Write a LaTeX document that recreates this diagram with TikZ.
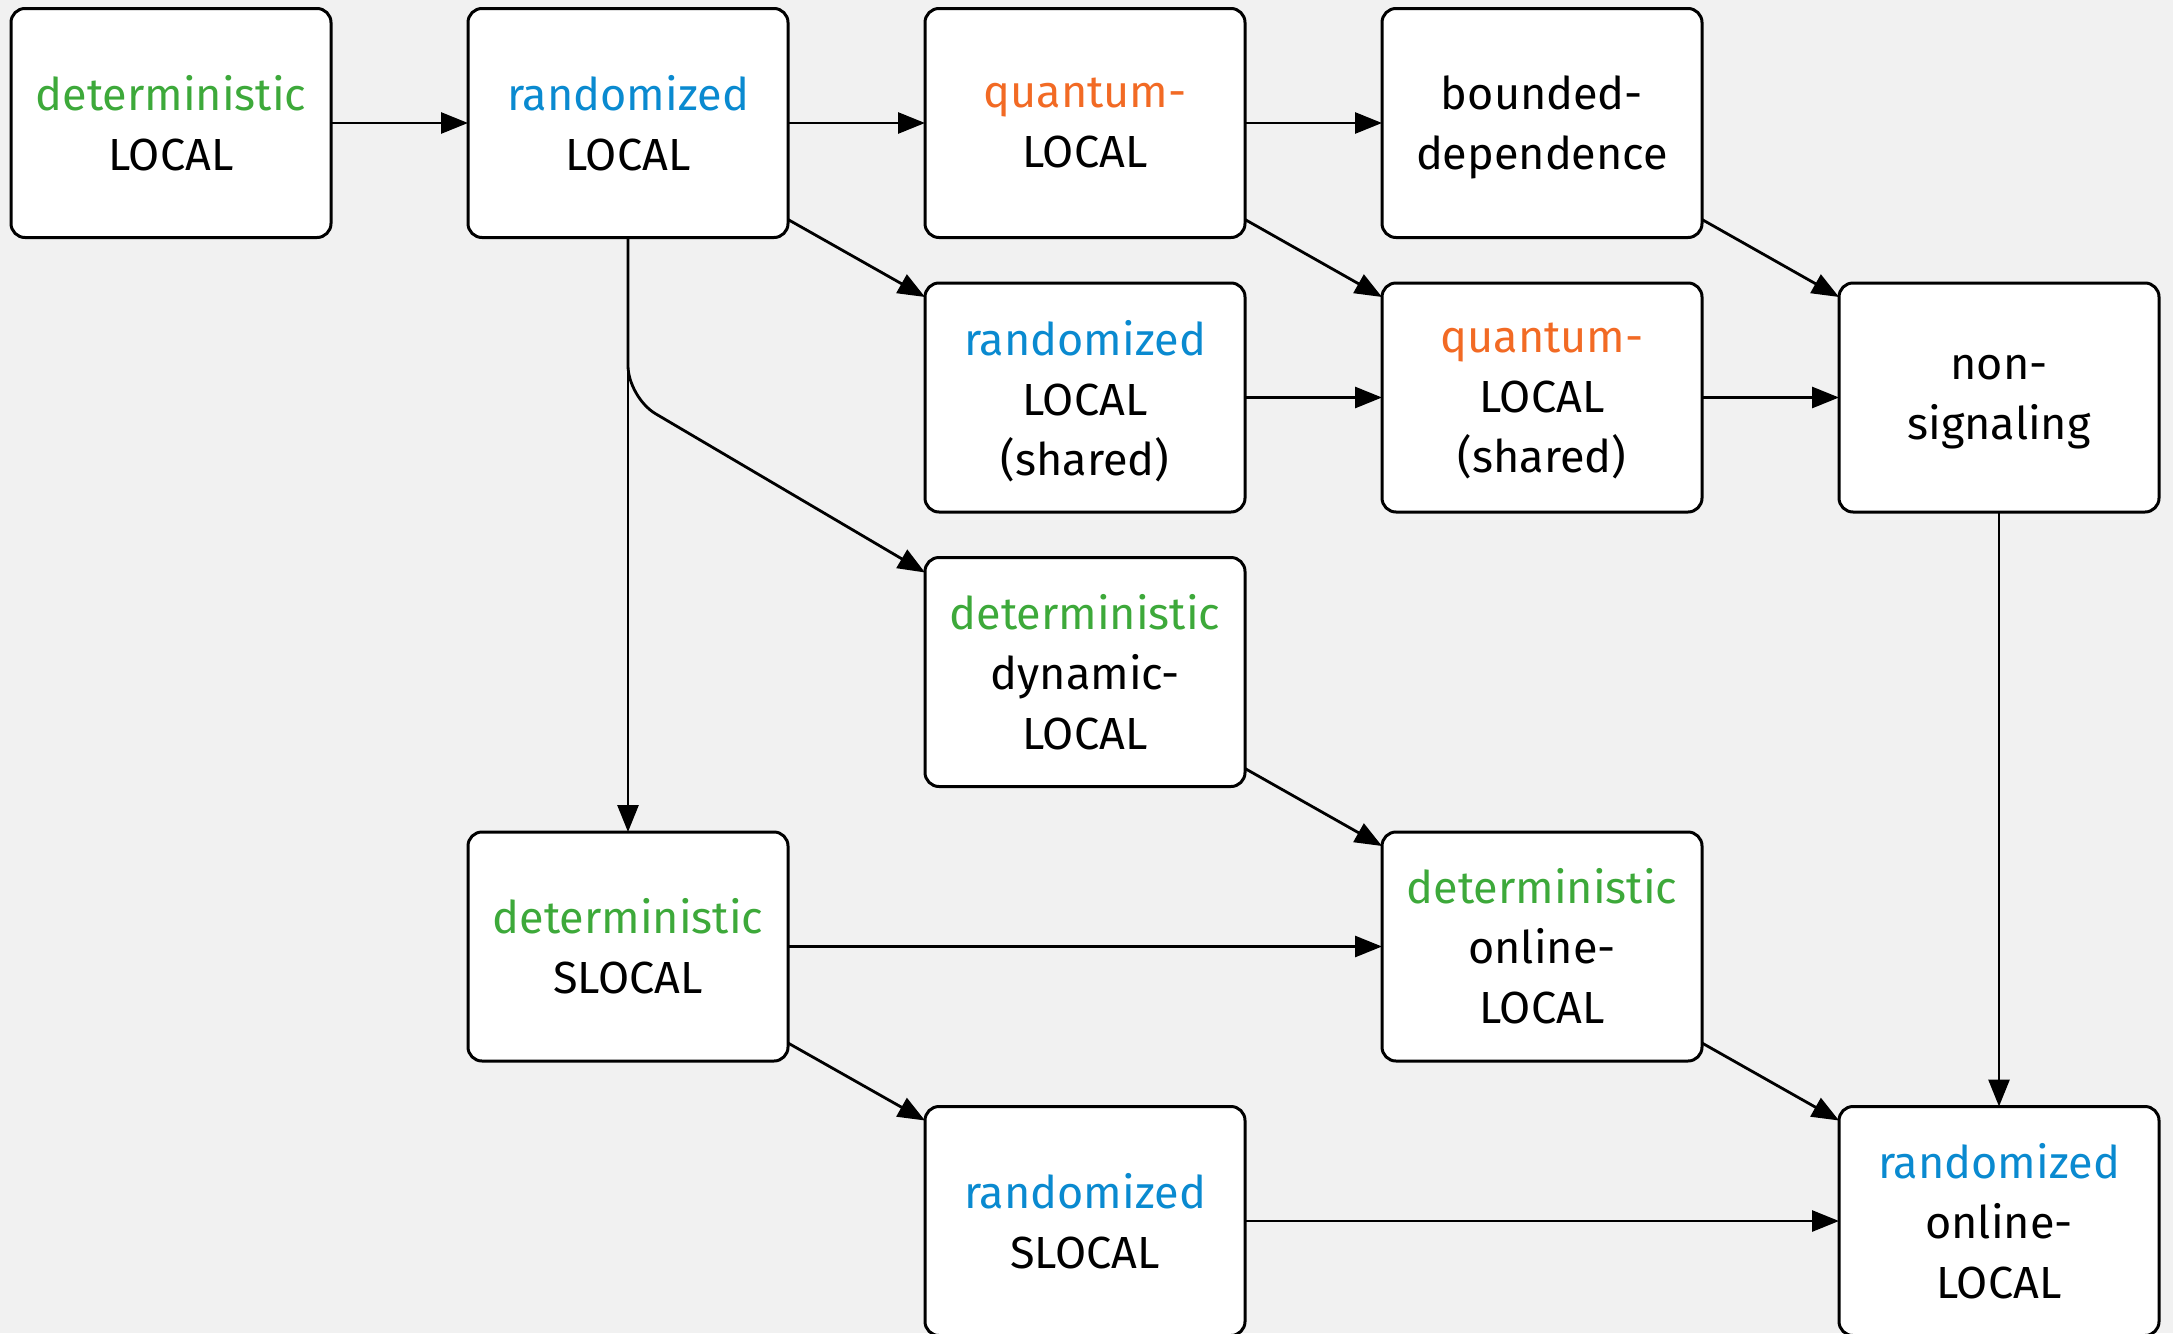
\documentclass[tikz,border=0pt]{standalone}
\usepackage{fontspec}
\setmainfont{Fira Sans}
\usepackage{xcolor}
\usepackage{tikz}
\usetikzlibrary{positioning,arrows.meta}
\definecolor{detgreen}{HTML}{3DA93A}
\definecolor{randblue}{HTML}{0A8AD0}
\definecolor{quantorange}{HTML}{F26A24}
\definecolor{bggray}{HTML}{F1F1F1}
\tikzset{model node/.style={rectangle,rounded corners=14pt,fill=white,draw,line width=3pt,minimum width=320pt,minimum height=229pt,outer sep=0pt,inner sep=0pt,align=center,font=\fontsize{45}{60}\selectfont},}
\tikzset{arr/.style={line width=2.8pt,-{Triangle[length=27pt,width=21pt]}},}
\newcommand{\dt}[1]{\textcolor{detgreen}{#1}}
\newcommand{\rd}[1]{\textcolor{randblue}{#1}}
\newcommand{\qu}[1]{\textcolor{quantorange}{#1}}

\begin{document}
\begin{tikzpicture}[node distance=45.5pt and 137pt]
       \fill[bggray] (0pt,0pt) rectangle (2173pt,-1333pt);
       \useasboundingbox (0pt,0pt) rectangle (2173pt,-1333pt);

       \node[model node] (dl) at (171pt,-123pt) {\dt{deterministic}\\LOCAL};
       \node[model node] (rl) [right = of dl] {\rd{randomized}\\LOCAL};
       \node[model node] (ql) [right = of rl] {\qu{quantum-}\\LOCAL};
       \node[model node] (bd) [right = of ql] {bounded-\\\smash{dependence}};
       \node[model node] (rls) [below = of ql] {\rd{randomized}\\LOCAL\\\smash{(shared)}};
       \node[model node] (qls) [below = of bd] {\qu{quantum-}\\LOCAL\\\smash{(shared)}};
       \node[model node] (ns) [right = of qls] {non-\\\smash{signaling}};
       \node[model node] (ddl) [below = of rls] {\dt{deterministic}\\dynamic-\\LOCAL};
       \node[model node] (dsl) [below left = of ddl] {\dt{deterministic}\\SLOCAL};
       \node[model node] (dol) [below right = of ddl] {\dt{deterministic}\\online-\\LOCAL};
       \node[model node] (rsl) [below right = of dsl] {\rd{randomized}\\SLOCAL};
       \node[model node] (rol) [below right = of dol] {\rd{randomized}\\online-\\LOCAL};

       \draw[arr] (dl) -- (rl);
       \draw[arr] (rl) -- (ql);
       \draw[arr] (ql) -- (bd);
       \draw[arr] (rls) -- (qls);
       \draw[arr] (qls) -- (ns);
       \draw[arr] (dsl) -- (dol);
       \draw[arr] (rsl) -- (rol);
       \draw[arr] (rl.south) -- (dsl.north);
       \draw[arr] (ns.south) -- (rol.north);
       \draw[arr, rounded corners=32pt] (rl.south) -- (rl.south |- rls.west) -- ([yshift=-15pt]ddl.north west);
       \draw[arr] ([yshift=18pt]rl.south east) -- ([yshift=-14pt]rls.north west);
       \draw[arr] ([yshift=18pt]ql.south east) -- ([yshift=-14pt]qls.north west);
       \draw[arr] ([yshift=18pt]bd.south east) -- ([yshift=-14pt]ns.north west);
       \draw[arr] ([yshift=18pt]ddl.south east) -- ([yshift=-14pt]dol.north west);
       \draw[arr] ([yshift=18pt]dsl.south east) -- ([yshift=-14pt]rsl.north west);
       \draw[arr] ([yshift=18pt]dol.south east) -- ([yshift=-14pt]rol.north west);
    \end{tikzpicture}
\end{document}
